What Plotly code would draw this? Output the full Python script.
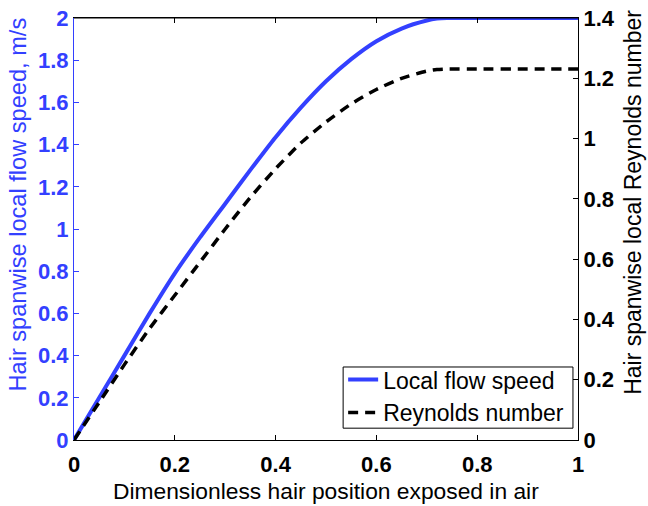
import plotly.graph_objects as go

x_pos = [0, 0.05, 0.1, 0.15, 0.2, 0.25, 0.3, 0.35, 0.4, 0.45, 0.5, 0.55, 0.6, 0.65, 0.7, 0.72, 0.74, 0.8, 0.9, 1.0]
speed = [0, 0.20, 0.40, 0.60, 0.79, 0.96, 1.12, 1.28, 1.435, 1.575, 1.70, 1.805, 1.89, 1.95, 1.988, 1.997, 2.0, 2.0, 2.0, 2.0]
reynolds = [0, 0.125, 0.25, 0.37, 0.48, 0.59, 0.70, 0.805, 0.90, 0.985, 1.055, 1.115, 1.163, 1.20, 1.224, 1.229, 1.231, 1.231, 1.231, 1.231]

x_title = "Dimensionless hair position exposed in air"
y_title = "Hair spanwise local flow speed, m/s"
y2_title = "Hair spanwise local Reynolds number"

BLUE = "#3340ff"
FONT = "Liberation Sans"

fig = go.Figure()
fig.add_trace(go.Scatter(x=x_pos, y=speed, mode="lines", name="Local flow speed",
                         line=dict(color=BLUE, width=4, shape="spline", smoothing=0.6), yaxis="y"))
fig.add_trace(go.Scatter(x=x_pos, y=reynolds, mode="lines", name="Reynolds number",
                         line=dict(color="black", width=3.5, dash="10px,7px", shape="spline", smoothing=0.6), yaxis="y2"))

fig.update_layout(
    width=648, height=506,
    margin=dict(l=74, r=70, t=18, b=66),
    paper_bgcolor="white", plot_bgcolor="white",
    font=dict(family=FONT, size=22, color="black"),
    showlegend=True,
    legend=dict(x=0.534, y=0.194, xanchor="left", yanchor="top",
                borderwidth=0, bgcolor="rgba(0,0,0,0)",
                font=dict(size=23, family=FONT), tracegroupgap=0),
    xaxis=dict(range=[0, 1], dtick=0.2, showgrid=False, zeroline=False, automargin=False,
               showline=True, linecolor="black", linewidth=1, mirror="ticks",
               ticks="inside", ticklen=5, tickcolor="black", ticklabelstandoff=5,
               tickfont=dict(size=22, family=FONT, weight="bold")),
    yaxis=dict(range=[0, 2], dtick=0.2, showgrid=False, zeroline=False, automargin=False,
               showline=True, linecolor=BLUE, linewidth=1,
               ticks="inside", ticklen=5, tickcolor=BLUE,
               tickfont=dict(size=22, color=BLUE, family=FONT, weight="bold")),
    yaxis2=dict(range=[0, 1.4], dtick=0.2, overlaying="y", side="right", showgrid=False, zeroline=False, automargin=False,
                showline=True, linecolor="black", linewidth=1,
                ticks="inside", ticklen=5, tickcolor="black",
                tickfont=dict(size=22, family=FONT, weight="bold")),
)
# axis titles
fig.add_annotation(text=x_title, xref="paper", yref="paper", x=0.5, y=0, yshift=-51,
                   xanchor="center", yanchor="middle", showarrow=False,
                   font=dict(size=22.8, family=FONT, color="black"))
fig.add_annotation(text=y_title, xref="paper", yref="paper", x=0, xshift=-56, y=0.558,
                   xanchor="center", yanchor="middle", showarrow=False, textangle=-90,
                   font=dict(size=23.6, family=FONT, color=BLUE))
fig.add_annotation(text=y2_title, xref="paper", yref="paper", x=1, xshift=55, y=0.562,
                   xanchor="center", yanchor="middle", showarrow=False, textangle=-90,
                   font=dict(size=23, family=FONT, color="black"))
# top frame line
fig.add_shape(type="line", xref="paper", yref="paper", x0=0, x1=1, y0=1, y1=1,
              line=dict(color="black", width=1))
# legend frame
fig.add_shape(type="rect", xref="paper", yref="paper", x0=0.534, x1=0.990, y0=0.028, y1=0.173,
              line=dict(color="black", width=1), fillcolor="white", layer="above")

fig.write_html("out.html", config={"displayModeBar": False},
               post_script="document.body.style.margin='0';")
